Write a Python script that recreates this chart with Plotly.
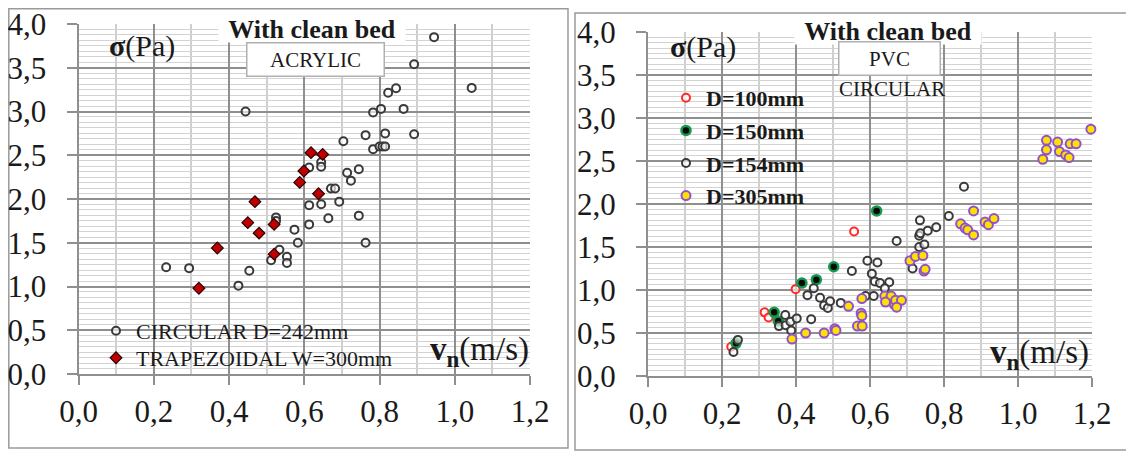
import plotly.graph_objects as go

W, H = 1134, 453
OX, OY = 8, 8  # page body margin offset of the plot inside the browser window

# ---------------- data: left panel (ACRYLIC) ----------------
acr_circ_x = [0.233, 0.294, 0.425, 0.454, 0.444, 0.512, 0.534, 0.554, 0.554, 0.525, 0.525, 0.574, 0.583,
              0.613, 0.613, 0.645, 0.664, 0.693, 0.671, 0.682, 0.613, 0.645, 0.645, 0.704, 0.714, 0.724,
              0.745, 0.745, 0.763, 0.763, 0.783, 0.800, 0.808, 0.815, 0.815, 0.783, 0.804, 0.864, 0.823,
              0.844, 0.892, 0.892, 0.945, 1.045]
acr_circ_y = [1.22, 1.21, 1.01, 1.18, 3.00, 1.30, 1.42, 1.34, 1.27, 1.79, 1.75, 1.65, 1.50,
              1.71, 1.93, 1.94, 1.78, 1.97, 2.12, 2.12, 2.36, 2.42, 2.37, 2.66, 2.30, 2.21,
              2.34, 1.81, 1.50, 2.73, 2.57, 2.60, 2.60, 2.60, 2.75, 2.99, 3.03, 3.03, 3.215,
              3.265, 2.74, 3.54, 3.85, 3.27]
acr_trap_x = [0.320, 0.369, 0.450, 0.469, 0.480, 0.520, 0.520, 0.588, 0.599, 0.618, 0.649, 0.638]
acr_trap_y = [0.98, 1.44, 1.73, 1.97, 1.61, 1.71, 1.37, 2.19, 2.32, 2.53, 2.51, 2.06]

# ---------------- data: right panel (PVC circular) ----------------
d100_x = [0.225, 0.315, 0.326, 0.399, 0.557]
d100_y = [0.34, 0.74, 0.68, 1.01, 1.68]
d150_x = [0.238, 0.341, 0.352, 0.416, 0.455, 0.502, 0.618]
d150_y = [0.38, 0.74, 0.64, 1.08, 1.12, 1.27, 1.92]
d154_x = [0.231, 0.243, 0.354, 0.371, 0.372, 0.385, 0.387, 0.402, 0.441, 0.431, 0.448, 0.465, 0.476,
          0.486, 0.492, 0.521, 0.551, 0.588, 0.610, 0.593, 0.620, 0.605, 0.613, 0.627, 0.652, 0.640,
          0.672, 0.715, 0.733, 0.747, 0.733, 0.736, 0.735, 0.756, 0.779, 0.813, 0.854]
d154_y = [0.28, 0.42, 0.58, 0.71, 0.59, 0.63, 0.53, 0.67, 0.66, 0.94, 1.02, 0.91, 0.82,
          0.79, 0.87, 0.85, 1.22, 0.93, 0.93, 1.34, 1.32, 1.19, 1.10, 1.08, 1.09, 1.02,
          1.57, 1.25, 1.50, 1.53, 1.63, 1.66, 1.81, 1.69, 1.73, 1.86, 2.20]
d305_x = [0.389, 0.426, 0.476, 0.505, 0.508, 0.542, 0.566, 0.579, 0.576, 0.578, 0.578, 0.640, 0.657,
          0.642, 0.666, 0.669, 0.685, 0.672, 0.708, 0.723, 0.743, 0.746, 0.749, 0.845, 0.857, 0.864,
          0.880, 0.880, 0.911, 0.920, 0.935, 1.067, 1.077, 1.077, 1.107, 1.112, 1.129, 1.138, 1.141,
          1.157, 1.197]
d305_y = [0.43, 0.50, 0.50, 0.55, 0.53, 0.81, 0.58, 0.58, 0.73, 0.70, 0.90, 0.93, 0.93,
          0.86, 0.83, 0.88, 0.88, 0.80, 1.34, 1.39, 1.40, 1.22, 1.24, 1.77, 1.72, 1.70,
          1.92, 1.64, 1.79, 1.76, 1.83, 2.52, 2.63, 2.74, 2.72, 2.61, 2.57, 2.54, 2.70,
          2.70, 2.87]

x_range = [0, 1.2]
y_range = [0, 4]
x_major, x_minor = 0.2, 0.1
y_major, y_minor = 0.5, 0.0625

SERIF = "Liberation Serif"
TXT = "#1a1a1a"


def px(x):
    return (x - OX) / W


def py(y):
    return 1 - (y - OY) / H


fig = go.Figure()

# left panel
fig.add_trace(go.Scatter(x=acr_circ_x, y=acr_circ_y, mode="markers", name="CIRCULAR D=242mm",
                         xaxis="x", yaxis="y", legend="legend", cliponaxis=False,
                         marker=dict(symbol="circle", size=8, color="rgba(255,255,255,0.6)",
                                     line=dict(color="#3a3a3a", width=2))))
fig.add_trace(go.Scatter(x=acr_trap_x, y=acr_trap_y, mode="markers", name="TRAPEZOIDAL W=300mm",
                         xaxis="x", yaxis="y", legend="legend3", cliponaxis=False,
                         marker=dict(symbol="diamond", size=9, color="#c00000",
                                     line=dict(color="#2a0000", width=1.2))))

# right panel
fig.add_trace(go.Scatter(x=d100_x, y=d100_y, mode="markers", name="D=100mm", legendgroup="a",
                         xaxis="x2", yaxis="y2", legend="legend2", cliponaxis=False,
                         marker=dict(symbol="circle", size=8, color="rgba(255,255,255,0.6)",
                                     line=dict(color="#ff2a2a", width=2))))
fig.add_trace(go.Scatter(x=d150_x, y=d150_y, mode="markers", name="D=150mm", legendgroup="b",
                         xaxis="x2", yaxis="y2", legend="legend2", cliponaxis=False,
                         marker=dict(symbol="circle", size=9, color="#0a0a0a",
                                     line=dict(color="#139a4a", width=2.5))))
fig.add_trace(go.Scatter(x=d154_x, y=d154_y, mode="markers", name="D=154mm", legendgroup="c",
                         xaxis="x2", yaxis="y2", legend="legend2", cliponaxis=False,
                         marker=dict(symbol="circle", size=8, color="rgba(255,255,255,0.6)",
                                     line=dict(color="#3a3a3a", width=2))))
fig.add_trace(go.Scatter(x=d305_x, y=d305_y, mode="markers", name="D=305mm", legendgroup="d",
                         xaxis="x2", yaxis="y2", legend="legend2", cliponaxis=False,
                         marker=dict(symbol="circle", size=9, color="#ffe100",
                                     line=dict(color="#8f52cc", width=2))))


def xaxis(domain, anchor):
    return dict(domain=domain, anchor=anchor, range=x_range, dtick=x_major, tick0=0,
                automargin=False, ticklabeloverflow="allow",
                showgrid=True, gridcolor="#8f8f8f", gridwidth=1.5, zeroline=False,
                showline=True, linecolor="#8f8f8f", linewidth=2,
                ticks="outside", ticklen=9, tickcolor="#8f8f8f", tickwidth=1.5,
                tickformat=".1f", ticklabelstandoff=0,
                tickfont=dict(family=SERIF, size=31, color=TXT),
                minor=dict(dtick=x_minor, tick0=0, showgrid=True, gridcolor="#cfcfcf", gridwidth=1.5))


def yaxis(domain, anchor):
    return dict(domain=domain, anchor=anchor, range=y_range, dtick=y_major, tick0=0,
                automargin=False, ticklabeloverflow="allow",
                showgrid=True, gridcolor="#8f8f8f", gridwidth=1.5, zeroline=False,
                showline=True, linecolor="#8f8f8f", linewidth=2,
                ticks="outside", ticklen=10, tickcolor="#8f8f8f", tickwidth=1.5,
                tickformat=".1f", ticklabelstandoff=14,
                tickfont=dict(family=SERIF, size=31, color=TXT),
                minor=dict(dtick=y_minor, tick0=0, showgrid=True, gridcolor="#d3d3d3", gridwidth=1.3))


L_x = [px(78.5), px(530)]
L_y = [py(374), py(24)]
R_x = [px(648), px(1092)]
R_y = [py(376), py(32)]

annotations = []


def ann(text, x, y, size, xanchor="center", bg=None, border=None, width=None, height=None, bold=False):
    d = dict(text=text, x=px(x), y=py(y), xref="paper", yref="paper", showarrow=False,
             xanchor=xanchor, yanchor="middle",
             font=dict(family=SERIF, size=size, color=TXT, weight="bold" if bold else "normal"))
    if bg:
        d["bgcolor"] = bg
    if border:
        d["bordercolor"] = border
        d["borderwidth"] = 1.5
    if width:
        d["width"] = width
    if height:
        d["height"] = height
    annotations.append(d)


# left panel texts
ann("With clean bed", 312, 29, 26, bg="white", bold=True, width=184, height=24)
ann("ACRYLIC", 315, 59, 21, bg="white", border="#b0b0b0", width=134, height=30)
ann("<b>σ</b>(Pa)", 142, 46, 30)
ann("<b>v<sub>n</sub></b>(m/s)", 531, 351, 33, xanchor="right")
# right panel texts
ann("With clean bed", 888, 31, 26, bg="white", bold=True, width=184, height=24)
ann("PVC", 889, 58, 21, bg="white", border="#b0b0b0", width=98, height=30)
ann("CIRCULAR", 892, 89, 21)
ann("<b>σ</b>(Pa)", 703, 47, 30)
ann("<b>v<sub>n</sub></b>(m/s)", 1091, 354, 33, xanchor="right")

# panel frames (left/top edges of the left frame sit at the window edge)
shapes = [
    dict(type="rect", xref="paper", yref="paper", x0=px(OX + 0.8), x1=px(568), y0=py(448), y1=py(OY + 0.8),
         line=dict(color="#9a9a9a", width=1.5), layer="below"),
    dict(type="rect", xref="paper", yref="paper", x0=px(575), x1=px(1132), y0=py(450), y1=py(13),
         line=dict(color="#9a9a9a", width=1.5), layer="below"),
]

leg_common = dict(xanchor="left", yanchor="middle", bgcolor="rgba(0,0,0,0)", itemwidth=30,
                  borderwidth=0)

fig.update_layout(
    template="none",
    width=W, height=H, margin=dict(l=0, r=0, t=0, b=0, autoexpand=False),
    paper_bgcolor="white", plot_bgcolor="white",
    separators=", ",
    xaxis=xaxis(L_x, "y"), yaxis=yaxis(L_y, "x"),
    xaxis2=xaxis(R_x, "y2"), yaxis2=yaxis(R_y, "x2"),
    legend=dict(x=px(96), y=py(331), font=dict(family=SERIF, size=22, color=TXT), **leg_common),
    legend3=dict(x=px(96), y=py(358), font=dict(family=SERIF, size=22, color=TXT), **leg_common),
    legend2=dict(x=px(666), y=py(147), tracegroupgap=1,
                 font=dict(family=SERIF, size=22, color=TXT, weight="bold"), **leg_common),
    annotations=annotations, shapes=shapes,
    showlegend=True,
)

fig.write_html("out.html")
